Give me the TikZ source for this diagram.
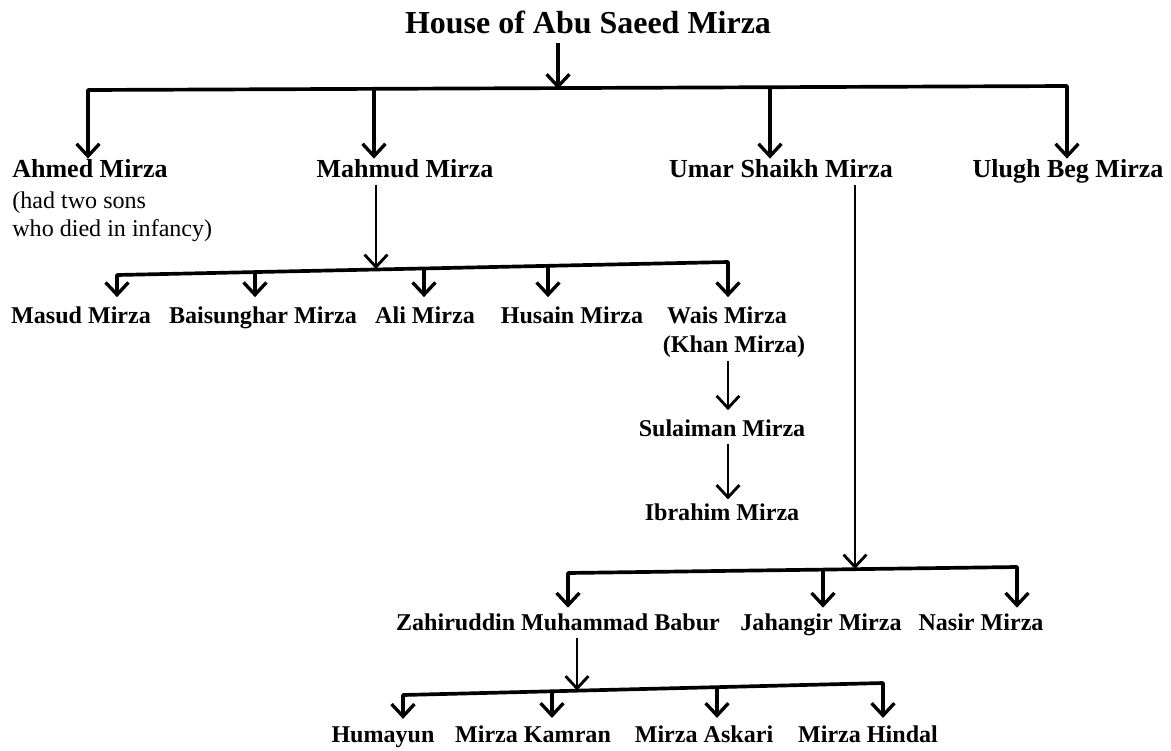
\documentclass[tikz,border=0pt]{standalone}
\usepackage{fontspec}
\setmainfont{Liberation Serif}
\usetikzlibrary{arrows.meta}

\begin{document}
\begin{tikzpicture}[x=0.02cm, y=-0.02cm,
        every node/.style={inner sep=0pt, anchor=base},
        gen1/.style={font=\bfseries\fontsize{14.8}{17}\selectfont},
        gen2/.style={font=\bfseries\fontsize{13.7}{16}\selectfont},
        remark/.style={font=\fontsize{13.7}{16}\selectfont, anchor=base west},
        bar/.style={line width=2.1pt, line cap=round},
        drop/.style={line width=1.9pt, -{Straight Barb[length=7pt,width=13pt]}},
        trunk/.style={line width=1.6pt, -{Straight Barb[length=7pt,width=13pt]}}]
        \useasboundingbox (0,0) rectangle (1171,751);

        \node[font=\bfseries\fontsize{18.2}{20}\selectfont] (abusaeed) at (588,33) {House of Abu Saeed Mirza};

        \node[gen1, anchor=base west] (ahmed) at (12,177) {Ahmed Mirza};
        \node[remark] (ahmednote1) at (12,208) {(had two sons};
        \node[remark] (ahmednote2) at (12,236) {who died in infancy)};
        \node[gen1] (mahmud) at (405,177) {Mahmud Mirza};
        \node[gen1] (umar) at (781,177) {Umar Shaikh Mirza};
        \node[gen1] (ulugh) at (1068,177) {Ulugh Beg Mirza};

        \node[gen2] (masud) at (81,323) {Masud Mirza};
        \node[gen2] (baisunghar) at (263,323) {Baisunghar Mirza};
        \node[gen2] (ali) at (425,323) {Ali Mirza};
        \node[gen2] (husain) at (572,323) {Husain Mirza};
        \node[gen2] (wais) at (727,323) {Wais Mirza};
        \node[gen2] (khan) at (734,352) {(Khan Mirza)};
        \node[gen2] (sulaiman) at (722,436) {Sulaiman Mirza};
        \node[gen2] (ibrahim) at (722,520) {Ibrahim Mirza};

        \node[gen2] (babur) at (558,630) {Zahiruddin Muhammad Babur};
        \node[gen2] (jahangir) at (821,630) {Jahangir Mirza};
        \node[gen2] (nasir) at (981,630) {Nasir Mirza};

        \node[gen2] (humayun) at (383,742) {Humayun};
        \node[gen2] (kamran) at (533,742) {Mirza Kamran};
        \node[gen2] (askari) at (704,742) {Mirza Askari};
        \node[gen2] (hindal) at (868,742) {Mirza Hindal};

        \coordinate (r0) at (558,89);
        \coordinate (r1) at (88,90);
        \coordinate (r2) at (374,89);
        \coordinate (r3) at (770,87);
        \coordinate (r4) at (1067,86);
        \draw[drop, shorten <=5pt] (abusaeed.south -| r0) -- (r0);
        \draw[bar] (r1) -- (r4);
        \foreach \j/\n in {r1/ahmed, r2/mahmud, r3/umar, r4/ulugh}
            \draw[drop] (\j) -- (\j |- \n.north);

        \coordinate (m0) at (376,269);
        \coordinate (m1) at (117,275);
        \coordinate (m2) at (255,272);
        \coordinate (m3) at (424,268.5);
        \coordinate (m4) at (548,266);
        \coordinate (m5) at (728,262);
        \coordinate (mtop) at (mahmud.south -| m0);
        \coordinate (wtop) at (khan.south -| m5);
        \coordinate (wbot) at (sulaiman.north -| m5);
        \coordinate (stop) at (sulaiman.south -| m5);
        \coordinate (sbot) at (ibrahim.north -| m5);
        \draw[trunk, shorten <=4pt] (mtop) -- (m0);
        \draw[bar] (m1) -- (m5);
        \foreach \j/\n in {m1/masud, m2/baisunghar, m3/ali, m4/husain, m5/wais}
            \draw[drop, shorten >=5pt] (\j) -- (\j |- \n.north);
        \draw[trunk, shorten <=2pt, shorten >=5pt] (wtop) -- (wbot);
        \draw[trunk, shorten <=4pt, shorten >=2pt] (stop) -- (sbot);

        \coordinate (u0) at (855,569);
        \coordinate (u1) at (568,573);
        \coordinate (u2) at (823,570);
        \coordinate (u3) at (1017,567);
        \coordinate (utop) at (umar.south -| u0);
        \draw[trunk, shorten <=4pt] (utop) -- (u0);
        \draw[bar] (u1) -- (u3);
        \foreach \j/\n in {u1/babur, u2/jahangir, u3/nasir}
            \draw[drop, shorten >=3pt] (\j) -- (\j |- \n.north);

        \coordinate (b0) at (577,690.5);
        \coordinate (b1) at (403,695);
        \coordinate (b2) at (552,691);
        \coordinate (b3) at (717,687);
        \coordinate (b4) at (883,683);
        \coordinate (btop) at (babur.south -| b0);
        \draw[trunk, shorten <=4pt] (btop) -- (b0);
        \draw[bar] (b1) -- (b4);
        \foreach \j/\n in {b1/humayun, b2/kamran, b3/askari, b4/hindal}
            \draw[drop, shorten >=4pt] (\j) -- (\j |- \n.north);
    \end{tikzpicture}
\end{document}
